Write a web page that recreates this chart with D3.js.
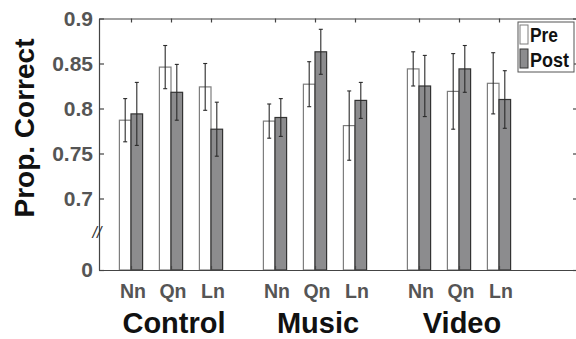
<!DOCTYPE html>
<html>
<head>
<meta charset="utf-8">
<script src="https://cdn.jsdelivr.net/npm/d3@7"></script>
<style>
  body { margin: 0; background: #fff; }
  svg { display: block; }
  svg text { font-family: "Liberation Sans", Arial, sans-serif; }
</style>
</head>
<body>
<div id="chart-container"></div>
<script>
// groups and conditions
const groups = ["Control", "Music", "Video"];
const conditions = ["Nn", "Qn", "Ln"];
const seriesNames = ["Pre", "Post"];

// values in order Control Nn,Qn,Ln / Music Nn,Qn,Ln / Video Nn,Qn,Ln
const preVals = [0.787, 0.846, 0.824, 0.786, 0.827, 0.781, 0.844, 0.819, 0.828];
const preErr = [0.024, 0.024, 0.026, 0.019, 0.025, 0.0385, 0.019, 0.042, 0.034];
const postVals = [0.794, 0.818, 0.777, 0.790, 0.863, 0.809, 0.825, 0.844, 0.810];
const postErr = [0.035, 0.031, 0.030, 0.021, 0.025, 0.020, 0.034, 0.026, 0.032];

const yTicks = [0, 0.7, 0.75, 0.8, 0.85, 0.9];

let width = 576;
let height = 339;

const svg = d3
  .select("#chart-container")
  .append("svg")
  .attr("width", width)
  .attr("height", height);

// x position of each condition: 1,2,3 then gap of 1.6 between groups
const groupGap = 3.6;
const positions = [];
groups.forEach((g, gi) => {
  conditions.forEach((c, ci) => {
    positions.push(1 + ci + gi * groupGap);
  });
});

const xScale = d3.scaleLinear().domain([0.2, 12.2]).range([99, 579]);

// broken axis: 0 .. 0.7 squeezed
const yScale = d3.scaleLinear().domain([0, 0.7, 0.9]).range([270, 198.5, 18.5]);

const barW = 0.29;

const data = positions.map((p, i) => ({
  pos: p,
  cond: conditions[i % 3],
  pre: preVals[i],
  preErr: preErr[i],
  post: postVals[i],
  postErr: postErr[i],
}));

// bars
const bars = svg.append("g");
bars
  .selectAll(".pre")
  .data(data)
  .enter()
  .append("rect")
  .attr("x", (d) => xScale(d.pos - barW))
  .attr("y", (d) => yScale(d.pre))
  .attr("width", xScale(barW) - xScale(0))
  .attr("height", (d) => yScale(0) - yScale(d.pre))
  .style("fill", "#fff")
  .style("stroke", "#7d7d7d")
  .style("stroke-width", 1.2);

bars
  .selectAll(".post")
  .data(data)
  .enter()
  .append("rect")
  .attr("x", (d) => xScale(d.pos))
  .attr("y", (d) => yScale(d.post))
  .attr("width", xScale(barW) - xScale(0))
  .attr("height", (d) => yScale(0) - yScale(d.post))
  .style("fill", "#8c8c8e")
  .style("stroke", "#333")
  .style("stroke-width", 1.2);

// error bars
function errorBars(key, errKey, offset) {
  const g = svg.append("g").style("stroke", "#2a2a2a").style("stroke-width", 1.1);
  data.forEach((d) => {
    const cx = xScale(d.pos + offset);
    const top = yScale(d[key] + d[errKey]);
    const bot = yScale(d[key] - d[errKey]);
    g.append("line").attr("x1", cx).attr("x2", cx).attr("y1", top).attr("y2", bot);
    g.append("line").attr("x1", cx - 2).attr("x2", cx + 2).attr("y1", top).attr("y2", top);
    g.append("line").attr("x1", cx - 2).attr("x2", cx + 2).attr("y1", bot).attr("y2", bot);
  });
}
errorBars("pre", "preErr", -barW / 2);
errorBars("post", "postErr", barW / 2);

// axes
const axisColor = "#444";
const fontFam = '"Liberation Sans", Arial, sans-serif';

const yAxis = svg
  .append("g")
  .attr("transform", "translate(99,0)")
  .call(
    d3.axisLeft(yScale)
      .tickValues(yTicks)
      .tickFormat((d) => d)
      .tickSizeInner(-5)
      .tickSizeOuter(0)
      .tickPadding(6)
  );
yAxis.attr("font-family", fontFam);
yAxis.selectAll("text")
  .style("font-size", "21px")
  .style("font-weight", "bold")
  .style("fill", "#555");

const yAxisR = svg
  .append("g")
  .attr("transform", "translate(578,0)")
  .call(d3.axisRight(yScale).tickValues(yTicks).tickFormat("").tickSizeInner(-5).tickSizeOuter(0));

const xAxis = svg
  .append("g")
  .attr("transform", "translate(0,270)")
  .call(
    d3.axisBottom(xScale)
      .tickValues(positions)
      .tickFormat((d, i) => conditions[i % 3])
      .tickSizeInner(-4)
      .tickSizeOuter(0)
      .tickPadding(14)
  );
xAxis.attr("font-family", fontFam);
xAxis.selectAll("text")
  .attr("dx", 1.5)
  .style("font-size", "19.5px")
  .style("font-weight", "bold")
  .style("fill", "#555");

const xAxisTop = svg
  .append("g")
  .attr("transform", "translate(0,18.5)")
  .call(d3.axisTop(xScale).tickValues(positions).tickFormat("").tickSizeInner(-4).tickSizeOuter(0));

[yAxis, yAxisR, xAxis, xAxisTop].forEach((a) => {
  a.selectAll("path, line").style("stroke", axisColor).style("stroke-width", 1.2);
});

// axis break mark
svg
  .append("text")
  .attr("x", 97)
  .attr("y", 238)
  .attr("text-anchor", "middle")
  .style("font-size", "16px")
  .style("font-style", "italic")
  .style("fill", "#333")
  .text("//");

// group labels
svg
  .append("g")
  .selectAll("text")
  .data(groups)
  .enter()
  .append("text")
  .attr("x", (d, i) => xScale(2 + i * groupGap) + 3)
  .attr("y", 333)
  .attr("text-anchor", "middle")
  .style("font-size", "29px")
  .style("font-weight", "bold")
  .style("fill", "#111")
  .text((d) => d);

// y label
svg
  .append("text")
  .attr("transform", "rotate(-90)")
  .attr("x", -128)
  .attr("y", 34)
  .attr("text-anchor", "middle")
  .style("font-size", "28px")
  .style("font-weight", "bold")
  .style("fill", "#111")
  .text("Prop. Correct");

// legend
const legend = svg.append("g");
legend
  .append("rect")
  .attr("x", 518)
  .attr("y", 22)
  .attr("width", 56)
  .attr("height", 50)
  .style("fill", "#fff")
  .style("stroke", "#555");

const swatchFill = ["#fff", "#8c8c8e"];
const swatchStroke = ["#7d7d7d", "#333"];
const textLen = [28, 39];
seriesNames.forEach((s, i) => {
  legend
    .append("rect")
    .attr("x", 520)
    .attr("y", 25 + i * 24)
    .attr("width", 8)
    .attr("height", 19)
    .style("fill", swatchFill[i])
    .style("stroke", swatchStroke[i]);
  legend
    .append("text")
    .attr("x", 530)
    .attr("y", 42 + i * 24.5)
    .attr("textLength", textLen[i])
    .attr("lengthAdjust", "spacingAndGlyphs")
    .style("font-size", "21px")
    .style("font-weight", "bold")
    .style("fill", "#111")
    .text(s);
});
</script>
</body>
</html>
